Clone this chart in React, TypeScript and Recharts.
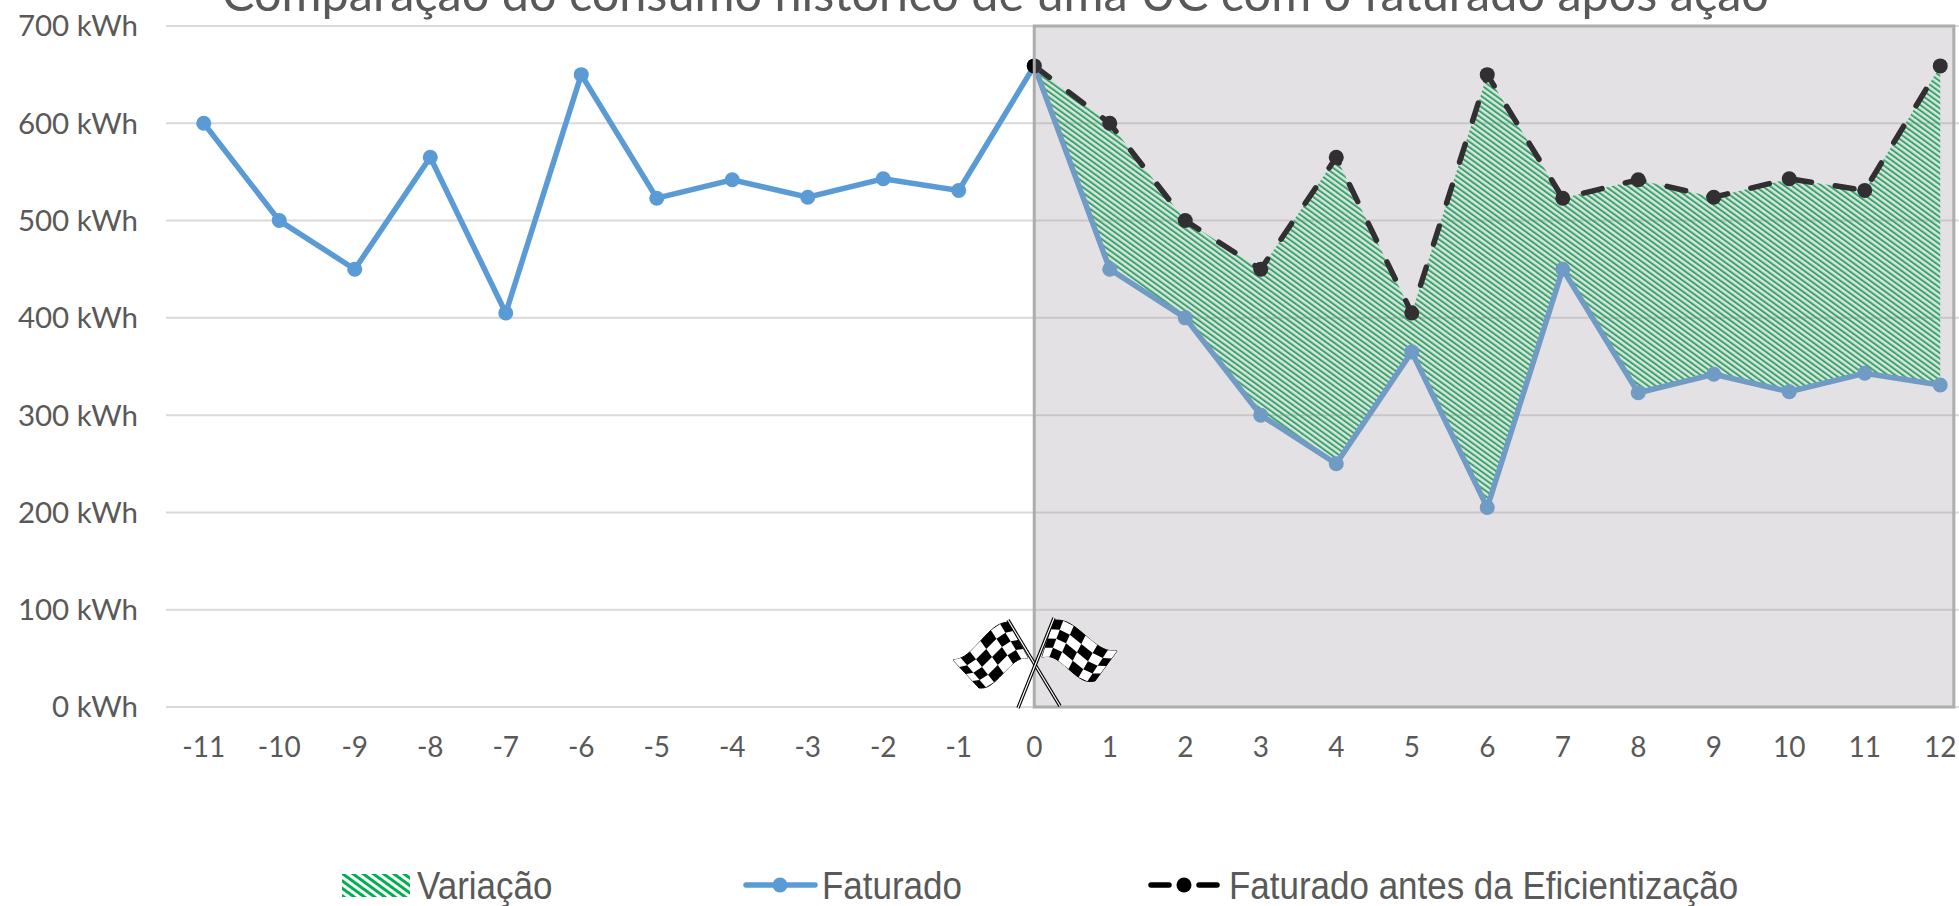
import React from 'react';
import { ComposedChart, Area, Line, XAxis, YAxis, CartesianGrid, ReferenceArea, Legend } from 'recharts';

const months = [-11, -10, -9, -8, -7, -6, -5, -4, -3, -2, -1, 0, 1, 2, 3, 4, 5, 6, 7, 8, 9, 10, 11, 12];
const faturado = [600, 500, 450, 565, 405, 650, 523, 542, 524, 543, 531, 659, 450, 400, 300, 250, 365, 205, 450, 323, 342, 324, 343, 331];
const antes = [null, null, null, null, null, null, null, null, null, null, null, 659, 600, 500, 450, 565, 405, 650, 523, 542, 524, 543, 531, 659];
const yTicks = [0, 100, 200, 300, 400, 500, 600, 700];
const titleText = 'Comparação do consumo histórico de uma UC com o faturado após ação';
const seriesNames = ['Variação', 'Faturado', 'Faturado antes da Eficientização'];

const table = months.map((m, i) => ({
  m,
  faturado: faturado[i],
  antes: antes[i],
  variacao: antes[i] == null ? null : [faturado[i], antes[i]],
}));

const GILL = 'Lato, "Open Sans", sans-serif';

function Flag({ a, b, c, d, flip }: { a: number[]; b: number[]; c: number[]; d: number[]; flip: number }) {
  const nu = 6, nv = 4;
  const pt = (u: number, v: number) => {
    const x = (1 - u) * ((1 - v) * a[0] + v * b[0]) + u * ((1 - v) * d[0] + v * c[0]);
    const y = (1 - u) * ((1 - v) * a[1] + v * b[1]) + u * ((1 - v) * d[1] + v * c[1]);
    const w = Math.sin(u * Math.PI * 2) * 5;
    return [x + flip * w * 0.3, y - w];
  };
  const outline: number[][] = [];
  const steps = 21;
  for (let i = 0; i <= steps; i++) outline.push(pt(i / steps, 0));
  for (let i = steps; i >= 0; i--) outline.push(pt(i / steps, 1));
  const cells: React.ReactNode[] = [];
  for (let i = 0; i < nu; i++) {
    for (let j = 0; j < nv; j++) {
      if ((i + j) % 2 === 0) continue;
      const p = [pt(i / nu, j / nv), pt((i + 1) / nu, j / nv), pt((i + 1) / nu, (j + 1) / nv), pt(i / nu, (j + 1) / nv)];
      cells.push(<polygon key={`${i}-${j}`} points={p.map((q) => q.join(',')).join(' ')} fill="#fff" />);
    }
  }
  return (
    <g>
      <polygon points={outline.map((q) => q.join(',')).join(' ')} fill="#000" stroke="#000" strokeWidth={1} />
      {cells}
    </g>
  );
}

function Flags() {
  const pole = (x1: number, y1: number, x2: number, y2: number) => (
    <g>
      <line x1={x1} y1={y1} x2={x2} y2={y2} stroke="#000" strokeWidth={3.4} />
      <line x1={x1} y1={y1} x2={x2} y2={y2} stroke="#fff" strokeWidth={1.2} />
    </g>
  );
  return (
    <svg width={1959} height={906} style={{ position: 'absolute', left: 0, top: 0, pointerEvents: 'none' }}>
      <Flag a={[1008, 622]} b={[1028, 658]} c={[979, 688]} d={[953, 660]} flip={1} />
      <Flag a={[1054, 620]} b={[1042, 657]} c={[1095, 681]} d={[1117, 651]} flip={-1} />
      {pole(1008, 620, 1060, 706)}
      {pole(1054, 618, 1018, 708)}
    </svg>
  );
}

function LegendContent() {
  const text: React.CSSProperties = {
    position: 'absolute', top: 0, fontFamily: '"Liberation Sans", sans-serif',
    fontSize: 38, lineHeight: '44px', color: '#595959', whiteSpace: 'nowrap',
    transform: 'scaleX(0.92)', transformOrigin: 'left center',
  };
  return (
    <div style={{ position: 'relative', width: 1959, height: 44 }}>
      <svg width={1959} height={44} style={{ position: 'absolute', left: 0, top: 0 }}>
        <defs>
          <pattern id="legendHatch" width="6" height="6" patternUnits="userSpaceOnUse" patternTransform="rotate(-54)">
            <rect width="3" height="6" fill="#00B050" />
          </pattern>
        </defs>
        <rect x={342} y={10} width={68} height={23} fill="url(#legendHatch)" />
        <line x1={746} y1={21} x2={815} y2={21} stroke="#5B9BD5" strokeWidth={5.5} strokeLinecap="round" />
        <circle cx={780} cy={21} r={7.5} fill="#5B9BD5" />
        <line x1={1151} y1={21} x2={1169} y2={21} stroke="#000" strokeWidth={5.5} strokeLinecap="round" />
        <line x1={1199} y1={21} x2={1217} y2={21} stroke="#000" strokeWidth={5.5} strokeLinecap="round" />
        <circle cx={1184} cy={21} r={7.5} fill="#000" />
      </svg>
      <span style={{ ...text, left: 417 }}>{seriesNames[0]}</span>
      <span style={{ ...text, left: 822 }}>{seriesNames[1]}</span>
      <span style={{ ...text, left: 1229 }}>{seriesNames[2]}</span>
    </div>
  );
}

export default function App() {
  return (
    <div style={{ position: 'absolute', left: 0, top: 0, width: 1959, height: 906, overflow: 'hidden', background: '#fff' }}>
      <ComposedChart width={1990} height={906} data={table} margin={{ top: 26, right: 12, bottom: 95, left: 0 }}>
        <defs>
          <pattern id="hatch" width="4.4" height="4.4" patternUnits="userSpaceOnUse" patternTransform="rotate(-54)">
            <rect width="2" height="4.4" fill="#00B050" />
          </pattern>
        </defs>
        <CartesianGrid horizontal vertical={false} stroke="#D9D9D9" strokeWidth={2} />
        <XAxis
          dataKey="m" type="number" domain={[-11.5, 12.5]} ticks={months} interval={0} height={60}
          axisLine={{ stroke: '#D9D9D9', strokeWidth: 2 }} tickLine={false} tickMargin={24}
          tick={{ fontFamily: GILL, fontSize: 28, fill: '#595959' }}
        />
        <YAxis
          type="number" domain={[0, 700]} ticks={yTicks} width={166} axisLine={false} tickLine={false} tickMargin={22}
          tickFormatter={(v: number) => `${v} kWh`}
          tick={{ fontFamily: GILL, fontSize: 29.5, fill: '#595959' }}
        />
        <Area dataKey="variacao" type="linear" stroke="none" fill="url(#hatch)" fillOpacity={1} isAnimationActive={false} dot={false} activeDot={false} legendType="none" />
        <Line dataKey="faturado" type="linear" stroke="#5B9BD5" strokeWidth={5.5} strokeLinecap="round" dot={{ r: 7.5, fill: '#5B9BD5', stroke: 'none' }} isAnimationActive={false} />
        <Line dataKey="antes" type="linear" stroke="#000" strokeWidth={5.5} strokeLinecap="round" strokeDasharray="19 24" dot={{ r: 7.5, fill: '#000', stroke: 'none', strokeDasharray: '0' }} isAnimationActive={false} />
        <ReferenceArea x1={0} x2={12.18} y1={0} y2={700} fill="rgb(162,155,162)" fillOpacity={0.3} stroke="#AEACAE" strokeWidth={3} ifOverflow="extendDomain" {...({ zIndex: 2000 } as any)} />
        <Legend content={<LegendContent />} wrapperStyle={{ position: 'absolute', left: 0, top: 864, width: 1959 }} />
      </ComposedChart>
      <div style={{ position: 'absolute', left: 222, top: -38, fontFamily: GILL, fontSize: 48.6, lineHeight: '60px', color: '#595959', whiteSpace: 'nowrap' }}>{titleText}</div>
      <Flags />
    </div>
  );
}
